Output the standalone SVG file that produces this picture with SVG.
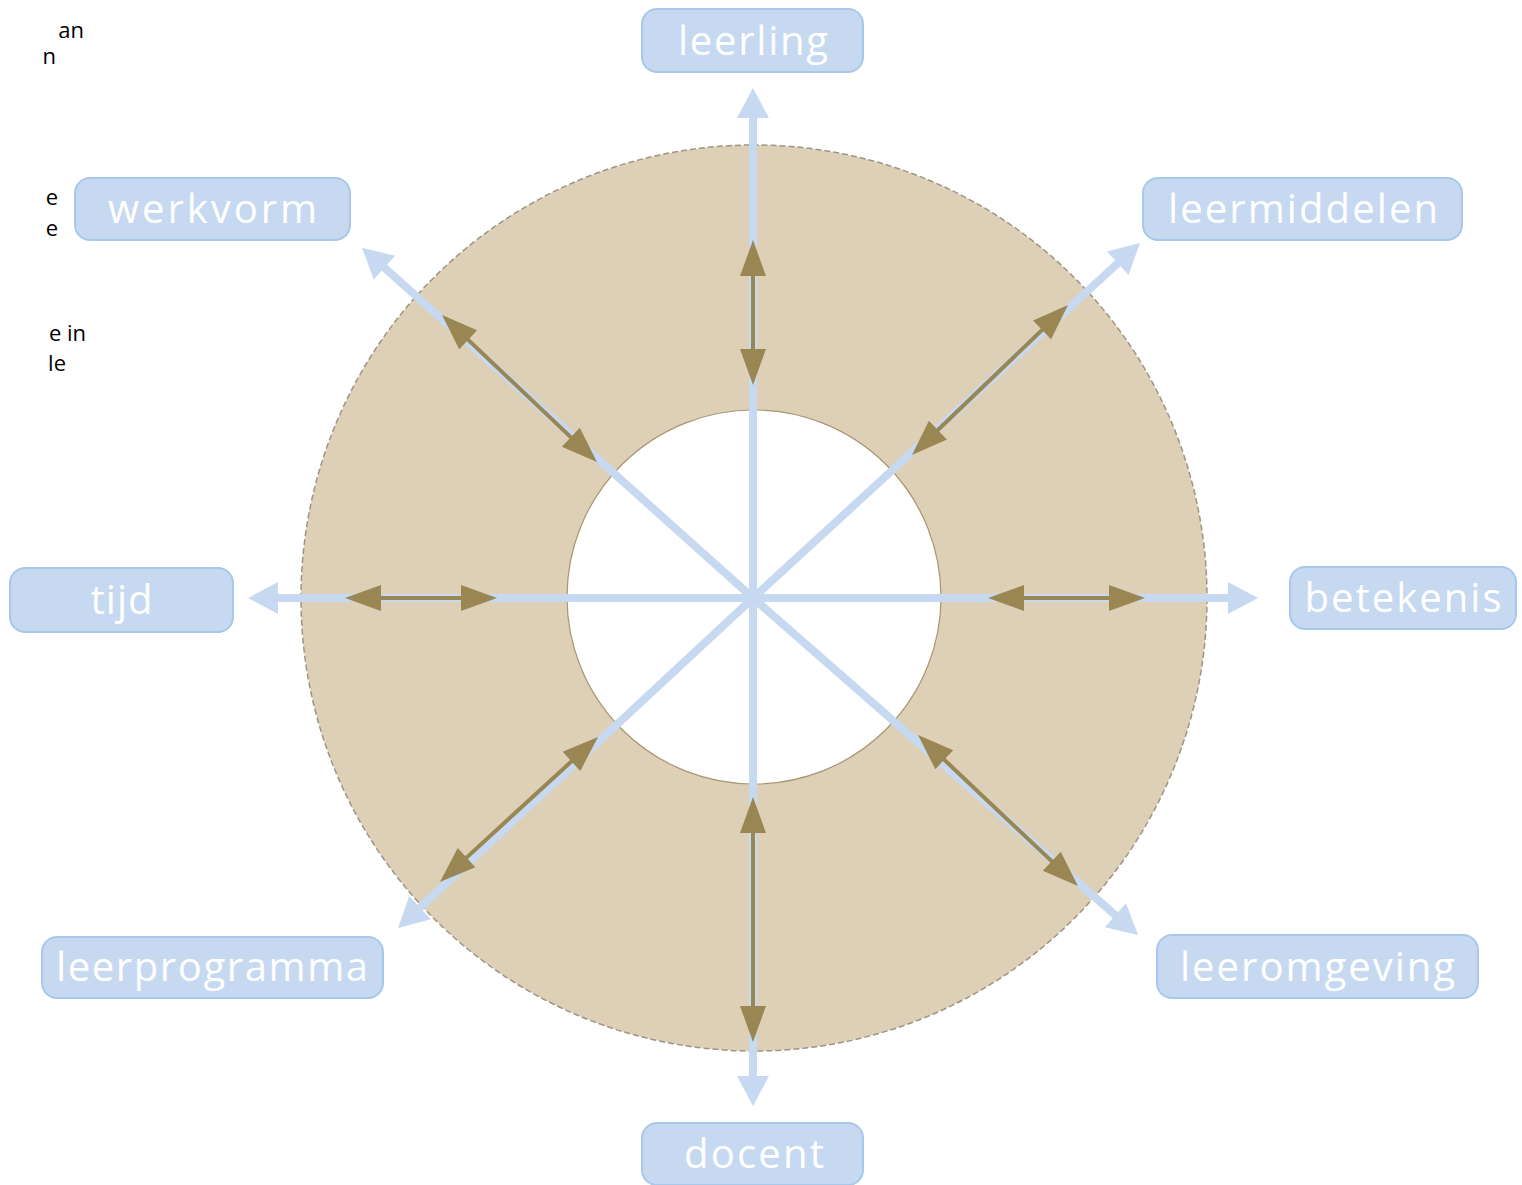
<svg xmlns="http://www.w3.org/2000/svg" width="1522" height="1185" viewBox="0 0 1522 1185">
  <style>
    .box { fill: #c6d9f1; stroke: #a8c8ea; stroke-width: 2; }
    .lbl { fill: #ffffff; font-family: "Open Sans", "Noto Sans", sans-serif; font-size: 40px; text-anchor: middle; }
    .blue { stroke: #c6d9f1; stroke-width: 8; fill: none; marker-end: url(#bh); }
    .brown { stroke: #9a8652; stroke-width: 4; fill: none; marker-start: url(#rh); marker-end: url(#rh); }
    .frag { fill: #000000; font-family: "Open Sans", "Noto Sans", sans-serif; font-size: 22px; text-anchor: end; }
  </style>
  <defs>
    <marker id="bh" markerUnits="userSpaceOnUse" markerWidth="30" markerHeight="32" refX="22" refY="16" orient="auto-start-reverse" overflow="visible">
      <path d="M0,0 L30,16 L0,32 z" fill="#c6d9f1"/>
    </marker>
    <marker id="rh" markerUnits="userSpaceOnUse" markerWidth="36" markerHeight="26" refX="30" refY="13" orient="auto-start-reverse" overflow="visible">
      <path d="M0,0 L36,13 L0,26 z" fill="#9a8652"/>
    </marker>
  </defs>
  <rect x="0" y="0" width="1522" height="1185" fill="#ffffff"/>

  <g id="text-fragments">
    <text class="frag" x="84" y="38">an</text>
    <text class="frag" x="56" y="64">n</text>
    <text class="frag" x="58" y="205">e</text>
    <text class="frag" x="58" y="236">e</text>
    <text class="frag" x="86" y="341">e in</text>
    <text class="frag" x="66" y="371">le</text>
  </g>

  <g id="ring">
    <circle cx="754" cy="598" r="453" fill="#ddd0b6" stroke="#9d9484" stroke-width="1.5" stroke-dasharray="6 3"/>
    <circle cx="754" cy="597" r="187" fill="#ffffff" stroke="#a89672" stroke-width="1.2"/>
  </g>

  <g id="connectors">
    <line class="blue" x1="753" y1="598" x2="753" y2="96"/>
    <line class="blue" x1="753" y1="598" x2="753" y2="1098"/>
    <line class="blue" x1="753" y1="598" x2="256" y2="598"/>
    <line class="blue" x1="753" y1="598" x2="1250" y2="598"/>
    <line class="blue" x1="753" y1="598" x2="368" y2="253"/>
    <line class="blue" x1="753" y1="598" x2="1134" y2="248.4"/>
    <line class="blue" x1="753" y1="598" x2="403.9" y2="922.6"/>
    <line class="blue" x1="753" y1="598" x2="1132" y2="929.7"/>

    <line class="brown" x1="753" y1="246" x2="753" y2="379"/>
    <line class="brown" x1="753" y1="803" x2="753" y2="1036"/>
    <line class="brown" x1="351" y1="598" x2="491" y2="598"/>
    <line class="brown" x1="994" y1="598" x2="1139" y2="598"/>
    <line class="brown" x1="446.4" y1="319.1" x2="592.6" y2="457.9"/>
    <line class="brown" x1="1063.7" y1="309.2" x2="916.3" y2="450.8"/>
    <line class="brown" x1="593.6" y1="741.1" x2="444.4" y2="877.9"/>
    <line class="brown" x1="922.4" y1="739.1" x2="1073.6" y2="881.9"/>
  </g>

  <g id="node-leerling">
    <rect class="box" x="642" y="9" width="221" height="63" rx="15"/>
    <text class="lbl" x="753" y="55" textLength="150">leerling</text>
  </g>
  <g id="node-werkvorm">
    <rect class="box" x="75" y="178" width="275" height="62" rx="15"/>
    <text class="lbl" x="212.5" y="223" textLength="209">werkvorm</text>
  </g>
  <g id="node-leermiddelen">
    <rect class="box" x="1143" y="178" width="319" height="62" rx="15"/>
    <text class="lbl" x="1303" y="223" textLength="270">leermiddelen</text>
  </g>
  <g id="node-tijd">
    <rect class="box" x="10" y="568" width="223" height="64" rx="15"/>
    <text class="lbl" x="121.5" y="614" textLength="62">tijd</text>
  </g>
  <g id="node-betekenis">
    <rect class="box" x="1290" y="567" width="226" height="62" rx="15"/>
    <text class="lbl" x="1403" y="612" textLength="197">betekenis</text>
  </g>
  <g id="node-leerprogramma">
    <rect class="box" x="42" y="937" width="341" height="61" rx="15"/>
    <text class="lbl" x="212" y="981" textLength="312">leerprogramma</text>
  </g>
  <g id="node-leeromgeving">
    <rect class="box" x="1157" y="935" width="321" height="63" rx="15"/>
    <text class="lbl" x="1317.5" y="981" textLength="275">leeromgeving</text>
  </g>
  <g id="node-docent">
    <rect class="box" x="642" y="1123" width="221" height="62" rx="15"/>
    <text class="lbl" x="754" y="1168" textLength="140">docent</text>
  </g>
</svg>
